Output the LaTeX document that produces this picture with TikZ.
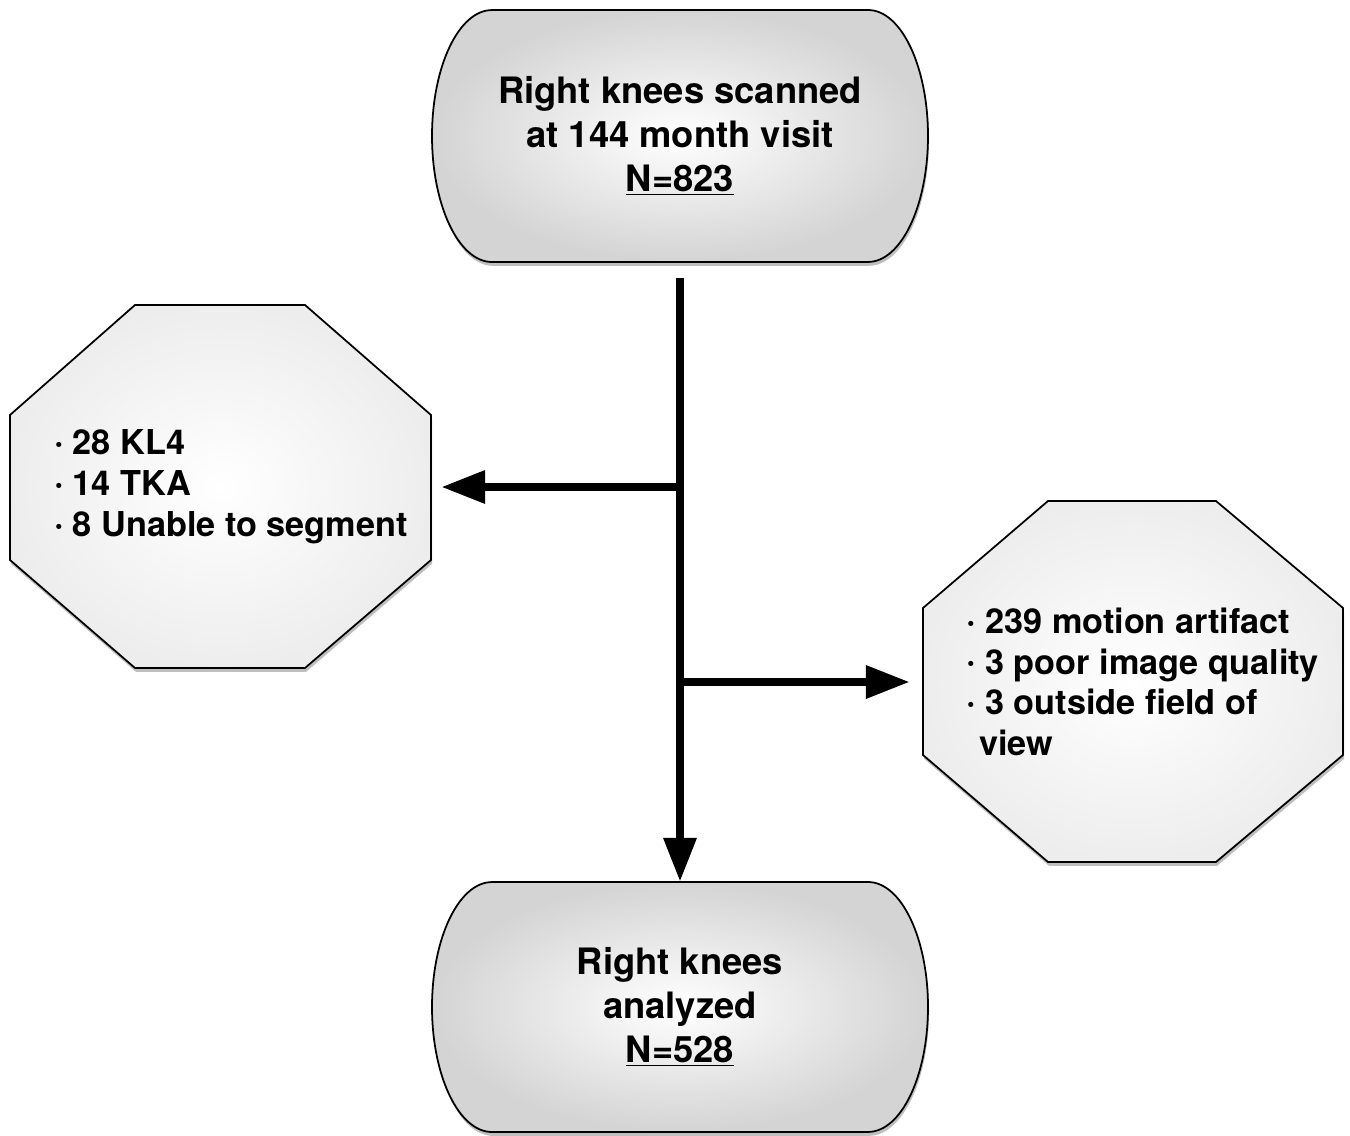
\documentclass[tikz,border=0pt]{standalone}
\usepackage{fontspec}
\setmainfont{TeX Gyre Heros}
\usetikzlibrary{arrows.meta}
\usetikzlibrary{calc}
\usetikzlibrary{shadows}

\newcommand{\bul}{\makebox[10.5pt][l]{\raisebox{0.8pt}{·}}}

\begin{document}
\begin{tikzpicture}[
    x=0.02cm, y=-0.02cm,
    flow/.style={line width=4.5pt, -{Triangle[length=25pt,width=18pt]}},
    stadium/.style={draw, line width=1pt, inner color=white, outer color=black!17,
        drop shadow={shadow xshift=0.6pt, shadow yshift=-2.2pt, opacity=0.5}},
    octagon/.style={draw, line width=1pt, inner color=white, outer color=black!7,
        drop shadow={shadow xshift=0.6pt, shadow yshift=-2.2pt, opacity=0.5}},
    big text/.style={font=\fontsize{20.7}{25}\selectfont\bfseries, align=center,
        minimum width=9.92cm, inner sep=0pt},
    list text/.style={font=\fontsize{19.5}{23.2}\selectfont\bfseries, align=left,
        inner sep=0pt},
    ]

    % page
    \fill[white] (0,0) rectangle (1350,1136);
    \useasboundingbox (0,0) rectangle (1350,1136);
    % stadium boxes
    \path[stadium] (492,10) -- (868,10)
        arc[start angle=90, end angle=-90, x radius=1.2cm, y radius=2.52cm]
        -- (492,262)
        arc[start angle=270, end angle=90, x radius=1.2cm, y radius=2.52cm] -- cycle;
    \path[stadium] (492,882) -- (868,882)
        arc[start angle=90, end angle=-90, x radius=1.2cm, y radius=2.5cm]
        -- (492,1132)
        arc[start angle=270, end angle=90, x radius=1.2cm, y radius=2.5cm] -- cycle;
    % octagons
    \path[octagon] (135,305) -- (305,305) -- (431,415) -- (431,560)
        -- (305,668) -- (135,668) -- (10,560) -- (10,415) -- cycle;
    \path[octagon] (1048,501) -- (1216,501) -- (1343,608) -- (1343,755)
        -- (1216,862) -- (1048,862) -- (923,755) -- (923,608) -- cycle;
    % texts
    \node[big text, minimum height=5.04cm] (scan) at (680,136)
        {Right knees scanned\\at 144 month visit\\\underline{N=823}};
    \node[big text, minimum height=5cm] (anal) at (680,1007)
        {Right knees\\analyzed\\\underline{N=528}};
    \node[list text, minimum width=8.4cm] (excl) at (231,487)
        {\bul 28 KL4\\\bul 14 TKA\\\bul 8 Unable to segment};
    \node[list text, minimum width=9.32cm] (drop) at (1143,682)
        {\bul 239 motion artifact\\\bul 3 poor image quality\\\bul 3 outside field of\\\hspace*{7pt}view};
    % arrows
    \draw[flow, shorten <=0.32cm] (scan.south) -- (anal.north);
    \draw[flow] (excl.east -| scan.south) -- (excl.east);
    \draw[flow] (drop.west -| scan.south) -- (drop.west);
\end{tikzpicture}
\end{document}
